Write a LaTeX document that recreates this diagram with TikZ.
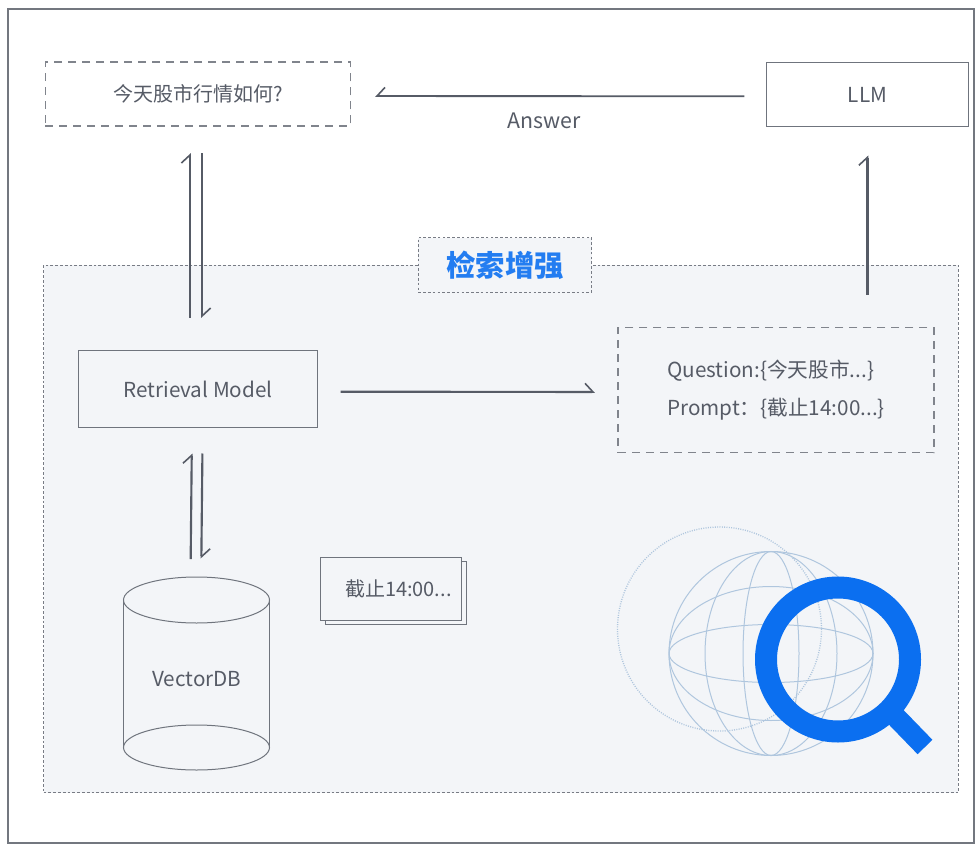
\documentclass[tikz,border=0pt]{standalone}
\usepackage{fontspec}
\setmainfont{Noto Sans CJK SC}
\usetikzlibrary{arrows.meta, positioning}
\definecolor{inkgray}{HTML}{565B66}
\definecolor{framegray}{HTML}{73777F}
\definecolor{panelgray}{HTML}{F3F5F8}
\definecolor{searchblue}{HTML}{0B6FF0}
\definecolor{globeblue}{HTML}{AFC6DE}
\begin{document}
\begin{tikzpicture}[x=0.75pt, y=-0.75pt,
	every node/.style={text=inkgray, font=\fontsize{15.5}{19}\selectfont},
	solidbox/.style={draw=inkgray!85, line width=0.75pt, inner sep=0pt},
	dashbox/.style={draw=inkgray!75, line width=0.8pt, dash pattern=on 6pt off 4.5pt, inner sep=0pt},
	dotbox/.style={draw=inkgray!80, line width=0.8pt, dash pattern=on 2pt off 1.6pt, inner sep=0pt, fill=panelgray},
	flow/.style={draw=inkgray, line width=1.6pt, -{Straight Barb[left, length=6pt, width=13pt, line width=1.2pt]}},
	flowr/.style={draw=inkgray, line width=1.4pt, -{Straight Barb[right, length=6pt, width=13pt, line width=1.2pt]}},
	dbline/.style={draw=inkgray!85, line width=0.75pt},
	globeline/.style={draw=globeblue, line width=0.75pt}]
	\useasboundingbox (0,0) rectangle (978,845);
	\fill[white] (0,0) rectangle (978,845);
	\node[draw=framegray, line width=1.4pt, minimum width=724.5pt, minimum height=625pt, inner sep=0pt] (frame) at (491,426) {};
	\node[dotbox, minimum width=686pt, minimum height=395.5pt] (panel) at (501,529) {};

	\node[dashbox, minimum width=229pt, minimum height=48pt, font=\fontsize{15}{19}\selectfont] (question) at (198,94) {今天股市行情如何?};
	\node[solidbox, minimum width=151pt, minimum height=48pt] (llm) at (867.5,95) {LLM};
	\node[draw=none, font=\fontsize{16}{19}\selectfont] (answer) at (544,121) {Answer};
	\node[dotbox, minimum width=130pt, minimum height=41pt, text=searchblue!90!white, font=\fontsize{22}{26}\selectfont\bfseries] (title) at (505,265) {检索增强};
	\node[solidbox, minimum width=179pt, minimum height=58pt] (retrieval) at (198,389) {Retrieval Model};
	\node[dashbox, minimum width=237pt, minimum height=94pt, align=left] (prompt) at (776,390) {Question:\{今天股市...\}\\[9pt]Prompt：\{截止14:00...\}};

	\node[solidbox, fill=panelgray, minimum width=106pt, minimum height=47pt] (chunkback) at (396,593) {};
	\node[solidbox, fill=panelgray, minimum width=106pt, minimum height=47pt, font=\fontsize{15}{19}\selectfont] (chunk) at (391,589) {\hspace{11pt}截止14:00...};

	% cylinder
	\node[minimum width=109pt, minimum height=144pt, inner sep=0pt] (vectordb) at (196.5,673.5) {};
	\node[draw=none] (vectorlabel) at (197,679) {VectorDB};
	\draw[dbline] (123.5,600) -- (123.5,747.5) (269.5,600) -- (269.5,747.5);
	\draw[dbline] (196.5,600) ellipse[x radius=73, y radius=23];
	\draw[dbline] (196.5,747.5) ellipse[x radius=73, y radius=22.5];

	% arrows
	\draw[flowr, shorten <=16.5pt, shorten >=18pt] ([yshift=-1pt]llm.west) -- ([yshift=-1.5pt]question.east);
	\draw[flow, shorten <=24pt, shorten >=20pt] ([xshift=-6pt]retrieval.north) -- ([xshift=-6pt]question.south);
	\draw[flow, shorten <=20pt, shorten >=24pt] ([xshift=3pt]question.south) -- ([xshift=3pt]retrieval.north);
	\draw[flow, shorten <=24pt, shorten >=21pt] (llm.south |- prompt.north) -- (llm.south);
	\draw[flow, shorten <=17pt, shorten >=17pt] ([yshift=-2pt]retrieval.east) -- ([yshift=-1.5pt]prompt.west);
	\draw[flow, shorten <=13.5pt, shorten >=19pt] ([xshift=-4.5pt]vectordb.north) -- ([xshift=-4.5pt]retrieval.south);
	\draw[flow, shorten <=19pt, shorten >=14pt] ([xshift=3.5pt]retrieval.south) -- ([xshift=3.5pt]vectordb.north);

	% globe
	\draw[globeline, densely dotted, line width=1pt] (719.5,629) circle[radius=102];
	\draw[globeline] (771,653.5) circle[radius=102];
	\foreach \rx in {28,66}
		\draw[globeline] (771,653.5) ellipse[x radius=\rx, y radius=102];
	\foreach \ry in {29,67}
		\draw[globeline] (771,653.5) ellipse[x radius=102, y radius=\ry];

	% magnifier
	\draw[searchblue, line width=16.5pt] (838,659.5) circle[radius=72];
	\draw[searchblue, line width=15.5pt] (893,714) -- (925,747);
\end{tikzpicture}
\end{document}
